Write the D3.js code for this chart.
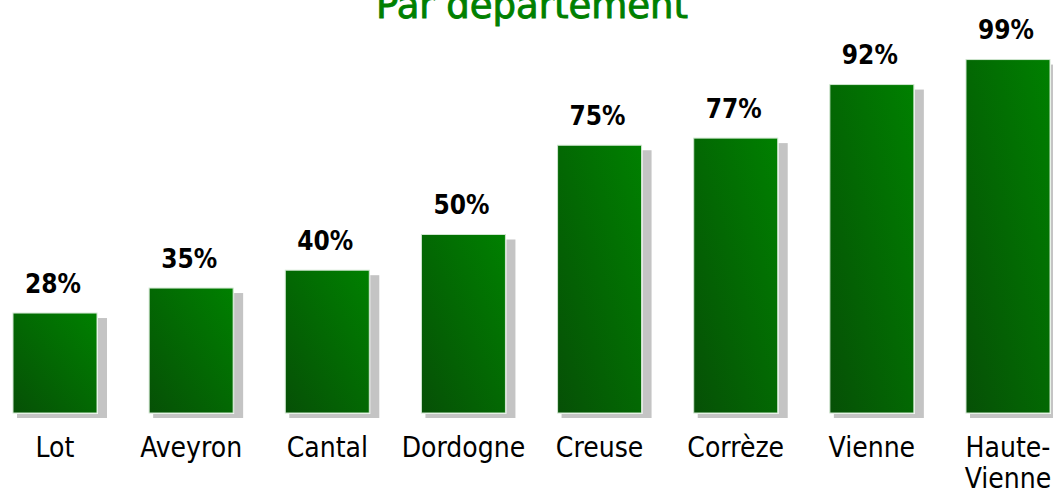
<!DOCTYPE html>
<html><head><meta charset="utf-8">
<script src="https://cdn.jsdelivr.net/npm/d3@7"></script>
<style>
html,body{margin:0;padding:0;background:#fff;overflow:hidden}
svg{display:block}
</style></head>
<body>
<svg id="chart" width="1053" height="495"></svg>
<script>
const title = "Par département";
const categories = ["Lot", "Aveyron", "Cantal", "Dordogne", "Creuse", "Corrèze", "Vienne", "Haute-Vienne"];
const categoryLines = [["Lot"], ["Aveyron"], ["Cantal"], ["Dordogne"], ["Creuse"], ["Corrèze"], ["Vienne"], ["Haute-", "Vienne"]];
const values = [28, 35, 40, 50, 75, 77, 92, 99];

const svg = d3.select("#chart");
const baseY = 413;

const x = d3.scaleBand().domain(categories).range([13, 1050]).paddingInner(0.383).paddingOuter(0);
const y = d3.scaleLinear().domain([0, 100]).range([baseY, baseY - 357]);

const defs = svg.append("defs");
const grad = defs.append("linearGradient").attr("id", "barGrad")
  .attr("x1", "0").attr("y1", "1").attr("x2", "1").attr("y2", "0");
grad.append("stop").attr("offset", "0%").attr("stop-color", "#065006");
grad.append("stop").attr("offset", "100%").attr("stop-color", "#008000");

const data = categories.map((c, i) => ({c, v: values[i], lines: categoryLines[i]}));

// shadows
svg.append("g").selectAll("rect").data(data).join("rect")
  .attr("x", d => x(d.c) + 4)
  .attr("y", d => y(d.v) + 5)
  .attr("width", x.bandwidth() + 6)
  .attr("height", d => baseY - y(d.v))
  .attr("fill", "#c4c4c4");

// white frame behind bar
svg.append("g").selectAll("rect").data(data).join("rect")
  .attr("x", d => x(d.c) - 1)
  .attr("y", d => y(d.v) - 1)
  .attr("width", x.bandwidth() + 2)
  .attr("height", d => baseY - y(d.v) + 2)
  .attr("fill", "#ffffff");

// bars
svg.append("g").selectAll("rect").data(data).join("rect")
  .attr("x", d => x(d.c))
  .attr("y", d => y(d.v))
  .attr("width", x.bandwidth())
  .attr("height", d => baseY - y(d.v))
  .attr("fill", "url(#barGrad)")
  .attr("stroke", "#cfe6cf")
  .attr("stroke-width", 1);

// value labels
svg.append("g").selectAll("text").data(data).join("text")
  .attr("x", d => x(d.c) + x.bandwidth() / 2 - 2)
  .attr("y", d => y(d.v) - 20.5)
  .attr("text-anchor", "middle")
  .attr("font-family", "'DejaVu Sans Condensed', 'DejaVu Sans', sans-serif")
  .attr("font-stretch", "condensed")
  .attr("font-size", 26)
  .attr("font-weight", "bold")
  .attr("fill", "#000")
  .text(d => d.v + "%");

// category labels
const cat = svg.append("g").selectAll("text").data(data).join("text")
  .attr("x", d => x(d.c) + x.bandwidth() / 2)
  .attr("y", 457)
  .attr("text-anchor", "middle")
  .attr("font-family", "'DejaVu Sans Condensed', 'DejaVu Sans', sans-serif")
  .attr("font-stretch", "condensed")
  .attr("font-size", 28)
  .attr("fill", "#000");
cat.selectAll("tspan").data(d => d.lines).join("tspan")
  .attr("x", function() { return d3.select(this.parentNode).attr("x"); })
  .attr("dy", (d, i) => i === 0 ? 0 : 31)
  .text(d => d);

// title
svg.append("text")
  .attr("x", 532)
  .attr("y", 18)
  .attr("text-anchor", "middle")
  .attr("font-family", "'DejaVu Sans', sans-serif")
  .attr("font-size", 37)
  .attr("fill", "#008000")
  .attr("stroke", "#008000")
  .attr("stroke-width", 0.9)
  .text(title);
</script>
</body></html>
